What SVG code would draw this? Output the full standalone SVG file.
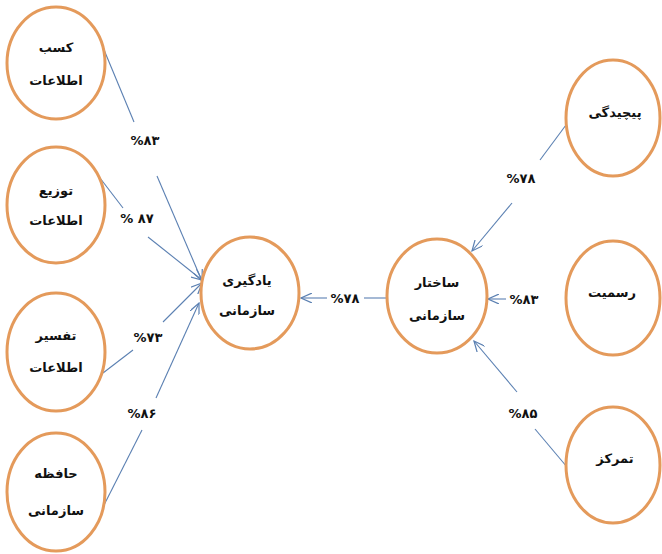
<svg xmlns="http://www.w3.org/2000/svg" width="662" height="554" viewBox="0 0 662 554">
<style>
.n{fill:#fff;stroke:#e49a5b;stroke-width:3}
.t{font-family:"DejaVu Sans",sans-serif;font-weight:bold;font-size:13px;fill:#111;text-anchor:middle}
.l{font-family:"DejaVu Sans",sans-serif;font-weight:bold;font-size:13px;fill:#111;text-anchor:middle}
.c{stroke:#5b80b2;stroke-width:1.1;fill:none}
.a{marker-end:url(#arr)}
</style>
<defs>
<marker id="arr" viewBox="0 0 12 10" refX="11" refY="5" markerWidth="12" markerHeight="10" markerUnits="userSpaceOnUse" orient="auto">
<path d="M0,0 L11,5 L0,10" fill="none" stroke="#5b80b2" stroke-width="1.2"/>
</marker>
</defs>
<rect width="662" height="554" fill="#fff"/>
<g id="connectors">
<line class="c" x1="102" y1="45" x2="134" y2="122"/>
<line class="c a" x1="157" y1="176" x2="202" y2="281"/>
<line class="c" x1="100" y1="178" x2="123" y2="208"/>
<line class="c a" x1="148" y1="237" x2="202" y2="280"/>
<line class="c" x1="103" y1="373" x2="133" y2="350"/>
<line class="c a" x1="163" y1="322" x2="202" y2="283"/>
<line class="c" x1="103" y1="507" x2="142" y2="430"/>
<line class="c a" x1="156" y1="398" x2="199" y2="303"/>
<line class="c" x1="388" y1="298" x2="364" y2="298"/>
<line class="c a" x1="327" y1="298" x2="301" y2="298"/>
<line class="c" x1="566" y1="125" x2="540" y2="160"/>
<line class="c a" x1="512" y1="203" x2="472" y2="251"/>
<line class="c a" x1="506" y1="299" x2="488" y2="299"/>
<line class="c" x1="567" y1="467" x2="535" y2="429"/>
<line class="c a" x1="517" y1="392" x2="474" y2="341"/>
<text class="l" x="145" y="145">%۸۳</text>
<text class="l" x="137" y="223">% ۸۷</text>
<text class="l" x="148" y="342">%۷۳</text>
<text class="l" x="142" y="418">%۸۶</text>
<text class="l" x="345" y="303">%۷۸</text>
<text class="l" x="521" y="183">%۷۸</text>
<text class="l" x="524" y="304">%۸۳</text>
<text class="l" x="523" y="418">%۸۵</text>
</g>
<g id="n1"><ellipse class="n" cx="56" cy="63" rx="49" ry="56"/><text class="t" x="56" y="52">کسب</text><text class="t" x="56" y="85">اطلاعات</text></g>
<g id="n2"><ellipse class="n" cx="56" cy="205" rx="49" ry="58"/><text class="t" x="56" y="195">توزیع</text><text class="t" x="56" y="225">اطلاعات</text></g>
<g id="n3"><ellipse class="n" cx="56" cy="352" rx="49" ry="59"/><text class="t" x="56" y="340">تفسیر</text><text class="t" x="56" y="372">اطلاعات</text></g>
<g id="n4"><ellipse class="n" cx="56" cy="492" rx="49" ry="59"/><text class="t" x="56" y="478">حافظه</text><text class="t" x="56" y="515">سازمانی</text></g>
<g id="n5"><ellipse class="n" cx="250" cy="293" rx="49" ry="56"/><text class="t" x="247" y="285">یادگیری</text><text class="t" x="247" y="315">سازمانی</text></g>
<g id="n6"><ellipse class="n" cx="437" cy="296" rx="50" ry="57"/><text class="t" x="437" y="287">ساختار</text><text class="t" x="437" y="320">سازمانی</text></g>
<g id="n7"><ellipse class="n" cx="613" cy="118" rx="47" ry="58"/><text class="t" x="615" y="117">پیچیدگی</text></g>
<g id="n8"><ellipse class="n" cx="613" cy="298" rx="47" ry="57"/><text class="t" x="612" y="297">رسمیت</text></g>
<g id="n9"><ellipse class="n" cx="613" cy="465" rx="47" ry="58"/><text class="t" x="615" y="463">تمرکز</text></g>
</svg>
